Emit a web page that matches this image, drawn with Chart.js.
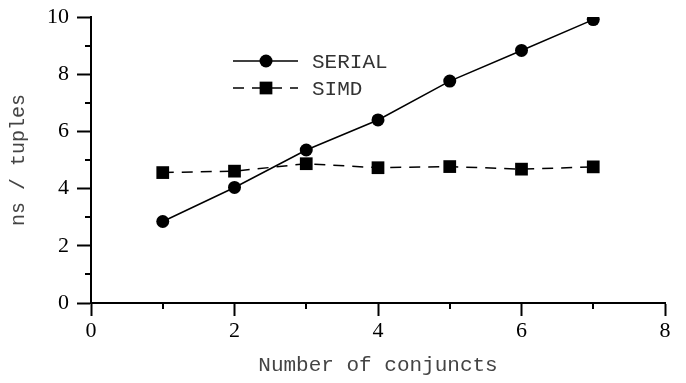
<!DOCTYPE html>
<html>
<head>
<meta charset="utf-8">
<script src="https://cdn.jsdelivr.net/npm/chart.js@4/dist/chart.umd.min.js"></script>
<style>
  html, body { margin: 0; padding: 0; background: #fff; }
  #wrap { width: 686px; height: 383px; position: relative; }
</style>
</head>
<body>
<div id="wrap"><canvas id="c" width="686" height="383"></canvas></div>
<script>
const conjuncts = [1, 2, 3, 4, 5, 6, 7];
const serialValues = [2.85, 4.04, 5.35, 6.40, 7.76, 8.83, 9.91];
const simdValues = [4.56, 4.61, 4.87, 4.73, 4.77, 4.68, 4.76];
const seriesNames = ['SERIAL', 'SIMD'];
const xTitle = 'Number of conjuncts';
const yTitle = 'ns / tuples';
const xMinorTicks = [1, 3, 5, 7];
const yMinorTicks = [1, 3, 5, 7, 9];

const toPoints = (xs, ys) => xs.map((x, i) => ({ x: x, y: ys[i] }));

const minorTicksPlugin = {
  id: 'minorTicks',
  afterDraw(chart) {
    const ctx = chart.ctx;
    const xs = chart.scales.x, ys = chart.scales.y;
    ctx.save();
    ctx.strokeStyle = '#000';
    ctx.lineWidth = 2;
    xMinorTicks.forEach(v => {
      const px = Math.round(xs.getPixelForValue(v));
      ctx.beginPath();
      ctx.moveTo(px, ys.bottom);
      ctx.lineTo(px, ys.bottom + 6);
      ctx.stroke();
    });
    yMinorTicks.forEach(v => {
      const py = Math.round(ys.getPixelForValue(v));
      ctx.beginPath();
      ctx.moveTo(xs.left - 6, py);
      ctx.lineTo(xs.left, py);
      ctx.stroke();
    });
    ctx.restore();
  }
};

const legendPlugin = {
  id: 'innerLegend',
  afterDraw(chart) {
    const ctx = chart.ctx;
    const area = chart.chartArea;
    ctx.save();
    chart.data.datasets.forEach((ds, i) => {
      const y = area.top + 44 + i * 27;
      const x0 = area.left + 142, x1 = area.left + 207, xm = area.left + 175;
      ctx.strokeStyle = '#000';
      ctx.lineWidth = ds.borderWidth;
      ctx.setLineDash(ds.borderDash || []);
      ctx.beginPath();
      ctx.moveTo(x0, y);
      ctx.lineTo(x1, y);
      ctx.stroke();
      ctx.setLineDash([]);
      ctx.fillStyle = '#000';
      if (ds.pointStyle === 'rect') {
        const s = Math.SQRT1_2 * ds.pointRadius;
        ctx.fillRect(xm - s, y - s, 2 * s, 2 * s);
      } else {
        ctx.beginPath();
        ctx.arc(xm, y, ds.pointRadius, 0, Math.PI * 2);
        ctx.fill();
      }
      ctx.fillStyle = '#333';
      ctx.font = '21px "Liberation Mono", monospace';
      ctx.textBaseline = 'middle';
      ctx.textAlign = 'left';
      ctx.fillText(ds.label, area.left + 221, y + 1);
    });
    ctx.restore();
  }
};

new Chart(document.getElementById('c'), {
  type: 'line',
  data: {
    datasets: [
      {
        label: seriesNames[0],
        data: toPoints(conjuncts, serialValues),
        borderColor: '#000',
        backgroundColor: '#000',
        borderWidth: 1.5,
        pointStyle: 'circle',
        pointRadius: 6.5,
        pointBorderWidth: 0,
        tension: 0,
        fill: false
      },
      {
        label: seriesNames[1],
        data: toPoints(conjuncts, simdValues),
        borderColor: '#000',
        backgroundColor: '#000',
        borderWidth: 1.5,
        borderDash: [11, 8],
        pointStyle: 'rect',
        pointRadius: 9,
        pointBorderWidth: 0,
        tension: 0,
        fill: false
      }
    ]
  },
  options: {
    responsive: false,
    animation: false,
    devicePixelRatio: 1,
    layout: { padding: { top: 17, right: 21, left: 0, bottom: 0 } },
    plugins: { legend: { display: false }, tooltip: { enabled: false } },
    scales: {
      x: {
        type: 'linear',
        min: 0, max: 8,
        afterFit(scale) { scale.height = 80; scale.paddingLeft = 0; scale.paddingRight = 0; },
        ticks: {
          stepSize: 2,
          color: '#000',
          padding: 2,
          maxRotation: 0,
          font: { family: '"Liberation Serif", serif', size: 22 }
        },
        grid: { display: true, drawOnChartArea: false, drawTicks: true, tickLength: 13, color: '#000', tickWidth: 2 },
        border: { display: true, color: '#000', width: 2 },
        title: {
          display: true, text: xTitle, color: '#444',
          font: { family: '"Liberation Mono", monospace', size: 21 },
          padding: { top: 4, bottom: 5 }
        }
      },
      y: {
        min: 0, max: 10,
        afterFit(scale) { scale.width = 91; scale.paddingTop = 0; scale.paddingBottom = 0; },
        ticks: {
          stepSize: 2,
          color: '#000',
          padding: 8,
          font: { family: '"Liberation Serif", serif', size: 22 }
        },
        grid: { display: true, drawOnChartArea: false, drawTicks: true, tickLength: 14, color: '#000', tickWidth: 2 },
        border: { display: true, color: '#000', width: 2 },
        title: {
          display: true, text: yTitle, color: '#444',
          font: { family: '"Liberation Mono", monospace', size: 20 },
          padding: { top: 7, bottom: 4 }
        }
      }
    }
  },
  plugins: [minorTicksPlugin, legendPlugin]
});
</script>
</body>
</html>
